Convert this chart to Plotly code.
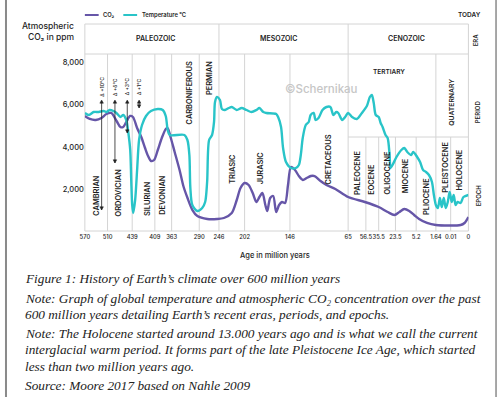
import numpy as np
import plotly.graph_objects as go

# ---------------- data ----------------
tick_ages = [570, 510, 439, 409, 363, 290, 246, 202, 146, 65, 56.5, 35.5, 23.5, 5.2, 1.64, 0.01, 0]
tick_labels = ["570", "510", "439", "409", "363", "290", "246", "202", "146", "65",
               "56.5", "35.5", "23.5", "5.2", "1.64", "0.01", "0"]

co2_age = [570, 557, 541, 526, 513, 499, 484, 473, 465, 456, 445, 438, 432.5, 427, 422, 418, 414, 410,
           401, 390, 379, 374, 366, 355, 342, 332, 321, 308, 295, 272, 250, 237.5, 224, 215.5, 209,
           202, 197, 192, 187.4, 183.7, 180, 176.4, 174, 170.4, 166.7, 163, 159.4, 155.8, 152, 148.4,
           144.6, 139, 133.6, 128, 122.7, 117, 111.7, 103.4, 95.2, 82.8, 65, 57, 35.5, 29.1, 24.2, 20,
           15.7, 11.3, 7, 4.67, 3.24, 1.64, 0.0044, 0.0022, 0]
co2_ppm = [5460, 5318, 5271, 5365, 5553, 5600, 5224, 4941, 4941, 5177, 5460, 5412, 4894, 4471, 3953,
           3577, 3341, 3388, 3859, 4424, 4847, 4894, 4471, 3765, 2918, 2165, 1600, 1035, 753, 612, 612,
           659, 894, 1506, 2071, 2306, 2212, 1835, 1412, 1647, 1835, 1271, 988, 1600, 1694, 941, 1271,
           1412, 1365, 2212, 3059, 2918, 2635, 2447, 2541, 2635, 2635, 2400, 2212, 2024, 1647, 1412,
           1177, 941, 800, 941, 1082, 988, 800, 612, 424, 329, 329, 424, 706]

temp_age = [570, 559.6, 546.5, 533.5, 520.4, 512.6, 504.3, 493, 484.4, 473, 464.6, 456, 450.4, 444.7,
            441.8, 439, 437.7, 435.1, 432.5, 429.9, 426, 420.7, 414.2, 400.9, 387.4, 379.2, 373.8,
            368.4, 329.1, 321.3, 316.1, 313.5, 308.3, 295.2, 283.4, 276.8, 272.4, 268, 261.4, 257,
            254.8, 250.4, 244.3, 240.9, 235.8, 229.1, 224, 215.5, 207.1, 199.6, 193.5, 187.4, 183.7,
            178.9, 175.2, 163, 160.6, 157, 154.5, 150.9, 144.6, 137.8, 133.6, 130.9, 128.2, 124, 119.9,
            117.2, 113, 110.3, 106.2, 100.7, 95.2, 89.7, 85.6, 81.5, 78.7, 73.2, 69.1, 65, 63.1, 60.8,
            58.4, 54.9, 50, 46.8, 43.6, 40.3, 35.5, 34.1, 32.7, 30.6, 29.1, 27.7, 27, 25.6, 22.6, 18.3,
            15.7, 13.05, 9.6, 7.8, 5.02, 4.49, 3.95, 3.42, 2.89, 2.35, 2.0, 1.64, 1.42, 1.2, 0.99, 0.77,
            0.55, 0.33, 0.12, 0.0094, 0.0083, 0.0072, 0.0061, 0.0044, 0.0028, 0]
# temperature curve level, drawn on the same (unlabelled) vertical scale
temp_level = [5600, 5506, 5647, 5647, 5694, 5647, 5741, 5694, 5600, 5412, 5506, 5271, 4706, 3859,
              2447, 1271, 894, 1506, 2918, 4330, 5035, 5459, 5694, 5788, 5741, 5459, 4800, 4565, 4565,
              4330, 3624, 2071, 1271, 988, 1129, 1412, 2353, 4330, 4565, 5177, 6118, 6353, 6212, 5788,
              5741, 5835, 5882, 5741, 5835, 5741, 5647, 5741, 5835, 5647, 5600, 5553, 5412, 4941, 3953,
              3294, 3012, 3012, 3153, 3624, 4424, 5035, 5177, 5506, 5600, 5271, 5365, 5741, 5882, 5882,
              5506, 5647, 5600, 5271, 5412, 5600, 5412, 5318, 5600, 5930, 6353, 6447, 6071, 5506, 5412,
              5130, 4941, 4565, 4424, 3624, 3012, 3153, 3530, 3859, 3953, 3765, 3624, 3765, 3530, 3294,
              2918, 2824, 2682, 2353, 1741, 1271, 1129, 1600, 1176, 1600, 1129, 1412, 1882, 1412, 1741,
              1271, 1412, 1365, 1647, 1741]

y_ticks = [2000, 4000, 6000, 8000]
y_tick_labels = ["2,000", "4,000", "6,000", "8,000"]

# ---------------- layout helpers ----------------
W, H = 500, 397
X0, X1 = 81, 470          # plot area left/right (px)
YB, YT = 232, 54          # plot area bottom/top (px)
tick_px = [81, 104, 129, 152, 169, 197, 217, 243, 289, 348, 366, 379, 396, 417, 437, 452, 470]
tick_pos = [p - X0 for p in tick_px]
y_top_val = (YB - YT) * 2000 / 42.5


def age_to_pos(ages):
    return np.interp(-np.asarray(ages, float), -np.asarray(tick_ages, float), tick_pos)


def px(x):
    return x / W


def py(y):
    return 1 - y / H


PURPLE = "#6656a8"
CYAN = "#29c4c8"
GRID = "#d4d4d4"
FONT = "Inter"
TXT = "#1e1e1e"

fig = go.Figure()
fig.add_trace(go.Scatter(x=age_to_pos(co2_age), y=co2_ppm, mode="lines", name="CO₂",
                         line=dict(color=PURPLE, width=2.4, shape="spline", smoothing=0.8),
                         showlegend=False, hoverinfo="skip"))
fig.add_trace(go.Scatter(x=age_to_pos(temp_age), y=temp_level, mode="lines", name="Temperature °C",
                         line=dict(color=CYAN, width=2.4, shape="spline", smoothing=0.8),
                         showlegend=False, hoverinfo="skip"))

shapes = []


def hline(y, xa, xb):
    shapes.append(dict(type="line", xref="paper", yref="paper", x0=px(xa), x1=px(xb), y0=py(y), y1=py(y),
                       line=dict(color=GRID, width=1), layer="below"))


def vline(x, ya, yb, color=GRID, width=1, layer="below"):
    shapes.append(dict(type="line", xref="paper", yref="paper", x0=px(x), x1=px(x), y0=py(ya), y1=py(yb),
                       line=dict(color=color, width=width), layer=layer))


hline(24, X0, X1)
hline(54, X0, X1)
hline(137, 348, X1)
hline(231, X0, X1)
vline(X0, 24, 231)
vline(X1, 24, 231)
for x in [217, 348]:
    vline(x, 24, 231)
for x in [104, 129, 152, 169, 197, 243, 289, 437]:
    vline(x, 54, 231)
for x in [366, 379, 396, 417, 452]:
    vline(x, 137, 231)
# page frame
vline(1, 0, 397, color="#8a8a8a", width=2)
vline(498, 0, 397, color="#8a8a8a", width=1.5)
# legend lines
shapes.append(dict(type="line", xref="paper", yref="paper", x0=px(81), x1=px(95), y0=py(15), y1=py(15),
                   line=dict(color=PURPLE, width=2)))
shapes.append(dict(type="line", xref="paper", yref="paper", x0=px(120), x1=px(134), y0=py(15), y1=py(15),
                   line=dict(color=CYAN, width=2)))


def tri(x, y, up):
    d = -1 if up else 1
    path = "M {} {} L {} {} L {} {} Z".format(px(x - 1.8), py(y - d * 3.2), px(x + 1.8), py(y - d * 3.2),
                                               px(x), py(y))
    shapes.append(dict(type="path", xref="paper", yref="paper", path=path,
                       fillcolor="#222", line=dict(color="#222", width=0.5), layer="above"))


ann = []


def text(x, y, s, size=7, angle=0, color=TXT, weight=600, xanchor="center", family=FONT):
    ann.append(dict(x=px(x), y=py(y), xref="paper", yref="paper", text=s, showarrow=False,
                    textangle=angle, xanchor=xanchor, yanchor="middle",
                    font=dict(family=family, size=size, color=color, weight=weight)))


# legend text
text(97, 15, "CO₂", size=5.8, xanchor="left")
text(137, 15, "Temperature °C", size=5.8, xanchor="left")
# axis title
ann.append(dict(x=px(72), y=py(26), xref="paper", yref="paper", text="Atmospheric", showarrow=False,
                xanchor="right", yanchor="middle", font=dict(family=FONT, size=8.5, color=TXT, weight=500)))
ann.append(dict(x=px(72), y=py(37), xref="paper", yref="paper", text="CO₂ in ppm", showarrow=False,
                xanchor="right", yanchor="middle", font=dict(family=FONT, size=8.5, color=TXT, weight=500)))
text(274, 255, "Age in million years", size=7.5, weight=500)
text(471, 15, "TODAY", size=6.5)
text(477, 40, "ERA", size=6, angle=-90)
text(480, 112, "PERIOD", size=6, angle=-90)
text(480, 195, "EPOCH", size=6, angle=-90)
# eras
text(153, 38, "PALEOZOIC", size=7)
text(277, 38, "MESOZOIC", size=7)
text(407, 38, "CENOZOIC", size=7)
text(389, 72, "TERTIARY", size=6.5)
text(452, 102, "QUATERNARY", size=6.8, angle=-90)
# periods / epochs
for x, y, s in [(92, 195, "CAMBRIAN"), (115, 192, "ORDOVICIAN"), (144, 198, "SILURIAN"),
                (159, 195, "DEVONIAN"), (187, 93, "CARBONIFEROUS"), (208, 78, "PERMIAN"),
                (230, 169, "TRIASIC"), (260, 168, "JURASIC"), (328, 159, "CRETACEOUS"),
                (357, 173, "PALEOCENE"), (371, 179, "EOCENE"), (387, 173, "OLIGOCENE"),
                (406, 176, "MIOCENE"), (427, 197, "PLIOCENE"), (446, 167, "PLEISTOCENE"),
                (460, 170, "HOLOCENE")]:
    text(x, y, s, size=7.4, angle=-90)
# watermark
text(321, 89, "©Schernikau", size=11.5, color="#c6c6c6", weight=500)
# delta arrows (double-headed)
for x, yh, s in [(98, 210, "Δ +10°C"), (111.5, 163, "Δ +6°C"), (124, 133, "Δ +3°C"), (136, 108, "Δ +1°C")]:
    text(x, 87, s, size=5, angle=-90, weight=500)
    vline(x, 101, yh, color="#222", width=0.8, layer="above")
    tri(x, 100, True)
    tri(x, yh, False)

# caption
CAP = "Liberation Serif"
for y, s in [(278, "Figure 1: History of Earth’s climate over 600 million years"),
             (298, "Note: Graph of global temperature and atmospheric CO₂ concentration over the past"),
             (314, "600 million years detailing Earth’s recent eras, periods, and epochs."),
             (333, "Note: The Holocene started around 13.000 years ago and is what we call the current"),
             (349, "interglacial warm period. It forms part of the late Pleistocene Ice Age, which started"),
             (366, "less than two million years ago."),
             (385, "Source: Moore 2017 based on Nahle 2009")]:
    ann.append(dict(x=px(18), y=py(y), xref="paper", yref="paper", text="<i>" + s + "</i>", showarrow=False,
                    xanchor="left", yanchor="middle", font=dict(family=CAP, size=13.3, color="#222")))

fig.update_layout(
    width=W, height=H, autosize=False, margin=dict(l=0, r=0, t=0, b=0),
    paper_bgcolor="white", plot_bgcolor="rgba(0,0,0,0)",
    shapes=shapes, annotations=ann,
    xaxis=dict(domain=[px(X0), px(X1)], range=[0, X1 - X0], tickvals=tick_pos, ticktext=tick_labels,
               tickangle=0, showgrid=False, zeroline=False, showline=False, ticks="", fixedrange=True,
               tickfont=dict(family=FONT, size=5.8, color=TXT, weight=500)),
    yaxis=dict(domain=[py(YB), py(YT)], range=[0, y_top_val], tickvals=y_ticks, ticktext=y_tick_labels,
               showgrid=False, zeroline=False, showline=False, ticks="", fixedrange=True,
               tickfont=dict(family=FONT, size=7.5, color=TXT, weight=500)),
)

fig.write_html("out.html", config={"displayModeBar": False},
               post_script="document.body.style.margin='0';document.body.style.overflow='hidden';")
